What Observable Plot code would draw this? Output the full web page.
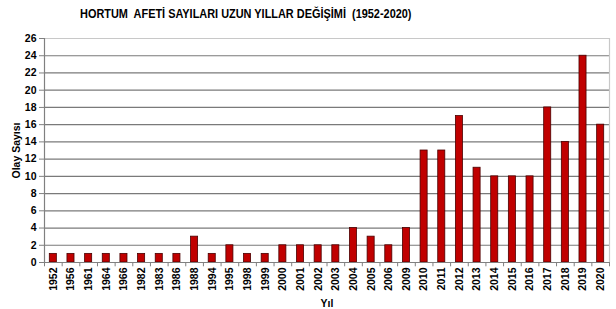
<!DOCTYPE html>
<html><head><meta charset="utf-8">
<script src="https://cdn.jsdelivr.net/npm/d3@7"></script>
<script src="https://cdn.jsdelivr.net/npm/@observablehq/plot@0.6"></script>
<style>
body{margin:0;background:#fff;font-family:"Liberation Sans",Arial,sans-serif;}
#title{height:27px;line-height:27px;font-weight:bold;font-size:13px;padding-left:80px;color:#000;white-space:pre;}
#title span{display:inline-block;transform:scaleX(0.84);transform-origin:left center;}
svg{display:block}
</style></head><body>
<div id="title"><span>HORTUM  AFETİ SAYILARI UZUN YILLAR DEĞİŞİMİ  (1952-2020)</span></div>
<div id="chart"></div>
<script>
const years = ["1952","1956","1961","1964","1966","1982","1983","1986","1988","1994","1995","1998","1999","2000","2001","2002","2003","2004","2005","2006","2009","2010","2011","2012","2013","2014","2015","2016","2017","2018","2019","2020"];
const counts = [1,1,1,1,1,1,1,1,3,1,2,1,1,2,2,2,2,4,3,2,4,13,13,17,11,10,10,10,18,14,24,16];
const yTicks = [0,2,4,6,8,10,12,14,16,18,20,22,24,26];
const data = years.map((y,i)=>({year:y, count:counts[i]}));

const W = 616, H = 282, ml = 44, mr = 7;
const step = (W - ml - mr) / years.length;

const chart = Plot.plot({
  width: W, height: H,
  marginTop: 11, marginBottom: 47, marginLeft: ml, marginRight: mr,
  style: {fontFamily: '"Liberation Sans", Arial, sans-serif', fontSize: "10.5px", fontWeight: "bold", color: "#000", background: "#fff"},
  x: {domain: years, paddingInner: 0.6, paddingOuter: 0.3, align: 0.5, round: false},
  y: {domain: [0, 26]},
  marks: [
    Plot.ruleY(yTicks.filter(d=>d>0 && d<26), {stroke: "#7a7a7a", strokeWidth: 1.2}),
    Plot.ruleY([26], {stroke: "#c8c8c8", strokeWidth: 1.2}),
    Plot.ruleX([years[years.length-1]], {y1: 0, y2: 26, dx: step/2, stroke: "#c8c8c8", strokeWidth: 1.2}),
    Plot.ruleX(years, {y1: 0, y2: -0.5, dx: step/2, stroke: "#808080", clip: false}),
    Plot.ruleX([years[0]], {y1: 0, y2: -0.5, dx: -step/2, stroke: "#808080"}),
    Plot.barY(data, {x: "year", y: "count", fill: "#c00000", stroke: "#4a0000", strokeWidth: 0.8}),
    Plot.ruleY([0], {stroke: "#808080", strokeWidth: 1.2}),
    Plot.ruleX([years[0]], {y1: 0, y2: 26, dx: -step/2, stroke: "#808080", strokeWidth: 1.2}),
    Plot.axisY({ticks: yTicks, tickSize: 5, tickPadding: 3, stroke: "#808080", label: "Olay Sayısı", labelAnchor: "center", labelArrow: "none", labelOffset: 32, fontSize: 10.5}),
    Plot.axisX({tickSize: 0, tickRotate: -90, tickPadding: 5, label: "Yıl", labelAnchor: "center", labelArrow: "none", labelOffset: 44, fontSize: 10.5})
  ]
});
document.getElementById("chart").appendChild(chart);
</script>
</body></html>
